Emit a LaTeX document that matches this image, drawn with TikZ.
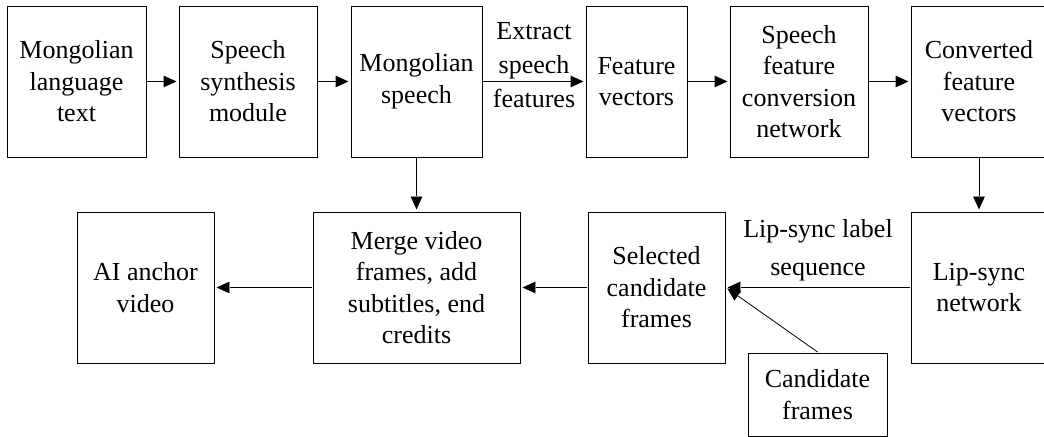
\documentclass[tikz,border=0pt]{standalone}
\usepackage{fontspec}
\setmainfont{Liberation Serif}
\usetikzlibrary{arrows.meta}

\begin{document}
\begin{tikzpicture}[x=0.5pt,y=-0.5pt]
\tikzset{line width=1pt,>={Triangle[length=7.5pt,width=6.5pt]},
  block/.style={draw,rectangle,align=center,inner sep=0pt,minimum height=75.5pt,font=\fontsize{13}{15.75}\selectfont},
  lbl/.style={align=center,inner sep=0pt,font=\fontsize{13}{17}\selectfont}}
\useasboundingbox (0,0) rectangle (1044,437);

\node[block,minimum width=69.5pt] (text) at (76.5,81.5) {Mongolian\\language\\text};
\node[block,minimum width=69pt] (synth) at (248,81.5) {Speech\\synthesis\\module};
\node[block,minimum width=65.5pt] (speech) at (416.5,81.5) {Mongolian\\speech};
\node[block,minimum width=50.5pt] (feat) at (636.5,81.5) {Feature\\vectors};
\node[block,minimum width=69pt] (convnet) at (799,81.5) {Speech\\feature\\conversion\\network};
\node[block,minimum width=68pt] (convfeat) at (979,81.5) {Converted\\feature\\vectors};

\node[block,minimum width=68pt] (lipnet) at (979,287.5) {Lip-sync\\network};
\node[block,minimum width=68.5pt] (select) at (656.5,287.5) {Selected\\candidate\\frames};
\node[block,minimum width=103.5pt] (merge) at (416.5,287.5) {Merge video\\frames, add\\subtitles, end\\credits};
\node[block,minimum width=68.5pt] (anchor) at (145.5,287.5) {AI anchor\\video};
\node[block,minimum width=69.5pt,minimum height=41.5pt] (cand) at (817.5,394.5) {Candidate\\frames};

\draw[->] (text) -- (synth);
\draw[->] (synth) -- (speech);
\draw[->] (speech) -- node[lbl,yshift=8pt] {Extract\\speech\\features} (feat);
\draw[->] (feat) -- (convnet);
\draw[->] (convnet) -- (convfeat);
\draw[->] (convfeat) -- (lipnet);
\draw[->] (lipnet) -- node[lbl,yshift=18.5pt] {Lip-sync label\\[2pt]sequence} (select);
\draw[->] (cand.north) -- (select.east);
\draw[->] (select) -- (merge);
\draw[->] (speech) -- (merge);
\draw[->] (merge) -- (anchor);

\end{tikzpicture}
\end{document}
